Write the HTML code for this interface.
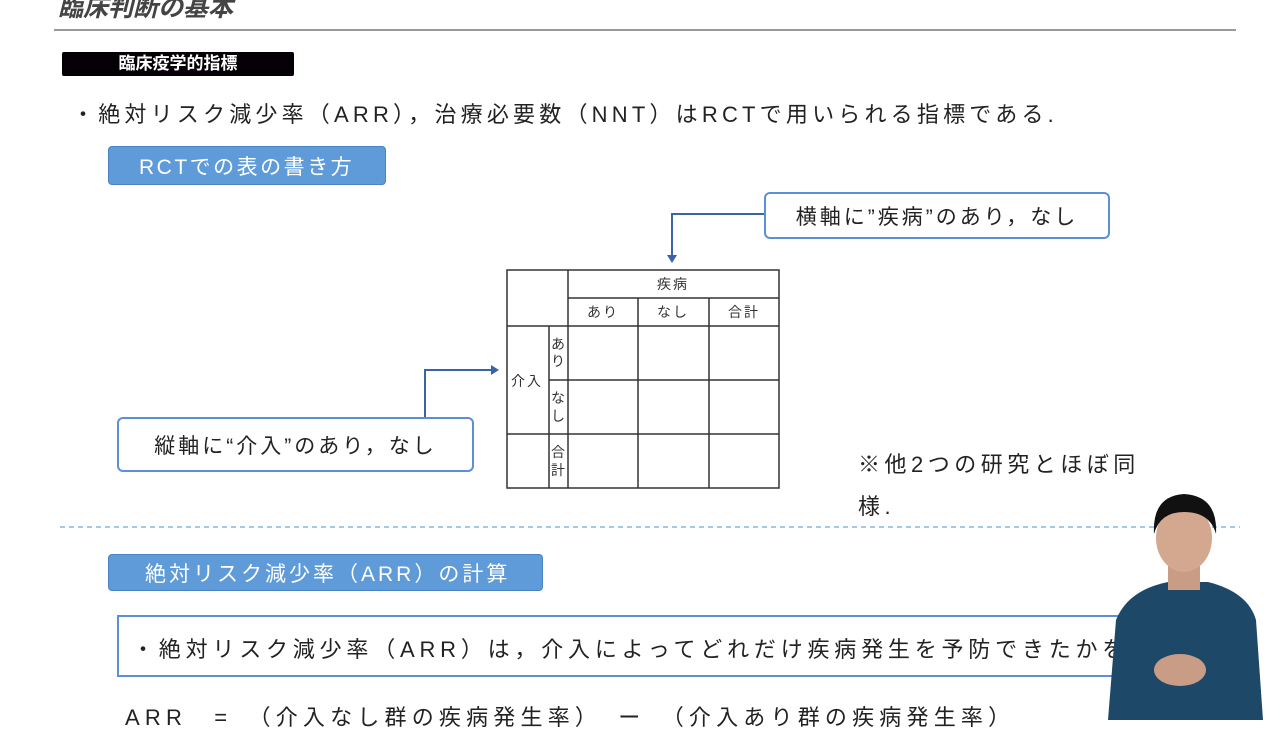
<!DOCTYPE html>
<html><head><meta charset="utf-8"><style>
body{margin:0;width:1280px;height:720px;overflow:hidden;background:#fff;position:relative;font-family:"Liberation Sans","Noto Sans CJK JP",sans-serif;color:#222}
.a{position:absolute;white-space:nowrap}
.bb{position:absolute;background:#5f9bd8;border:1.5px solid #4a83c4;border-radius:4px;color:#fff;font-size:21px;box-sizing:border-box;padding-left:30px;display:flex;align-items:center}
.wb{position:absolute;background:#fff;border:2px solid #5b8fd6;border-radius:6px;font-size:21px;box-sizing:border-box;display:flex;align-items:center;justify-content:center;letter-spacing:3px}
</style></head><body>
<div class="a" style="left:58px;top:-12px;font-size:25px;font-weight:bold;font-style:italic;color:#444">臨床判断の基本</div>
<div class="a" style="left:54px;top:29px;width:1182px;height:2px;background:#999"></div>
<div class="a" style="left:62px;top:52px;width:232px;height:24px;background:#050006;border-radius:2px;color:#fff;font-weight:bold;font-size:17px;line-height:24px;text-align:center">臨床疫学的指標</div>
<div class="a" style="left:72px;top:97px;font-size:22px;letter-spacing:4.2px">・絶対リスク減少率（ARR），治療必要数（NNT）はRCTで用いられる指標である.</div>
<div class="bb" style="left:108px;top:146px;width:278px;height:39px;letter-spacing:2.5px">RCTでの表の書き方</div>
<div class="wb" style="left:764px;top:192px;width:346px;height:47px">横軸に”疾病”のあり，なし</div>
<div class="wb" style="left:117px;top:417px;width:357px;height:55px">縦軸に“介入”のあり，なし</div>
<svg class="a" style="left:0;top:0" width="1280" height="720">
<g stroke="#3a63a8" stroke-width="2" fill="none">
<polyline points="764,214 672,214 672,256"/>
<polyline points="425,417 425,370 492,370"/>
</g>
<polygon points="667,255 677,255 672,263" fill="#3a63a8"/>
<polygon points="491,365 491,375 499,370" fill="#3a63a8"/>
<g stroke="#333" stroke-width="1.5" fill="none">
<rect x="507" y="270" width="272" height="218"/>
<line x1="568" y1="270" x2="568" y2="488"/>
<line x1="568" y1="298" x2="779" y2="298"/>
<line x1="638" y1="298" x2="638" y2="488"/>
<line x1="709" y1="298" x2="709" y2="488"/>
<line x1="507" y1="326" x2="779" y2="326"/>
<line x1="549" y1="326" x2="549" y2="488"/>
<line x1="549" y1="380" x2="779" y2="380"/>
<line x1="507" y1="434" x2="779" y2="434"/>
</g>
<g font-size="14" fill="#333" text-anchor="middle" font-family="Liberation Sans,Noto Sans CJK JP,sans-serif" letter-spacing="2">
<text x="673" y="289">疾病</text>
<text x="603" y="317">あり</text><text x="673" y="317">なし</text><text x="744" y="317">合計</text>
<text x="527" y="386">介入</text>
</g>
<g font-size="14" fill="#333" text-anchor="middle" font-family="Liberation Sans,Noto Sans CJK JP,sans-serif">
<text x="558" y="349">あ</text><text x="558" y="366">り</text>
<text x="558" y="403">な</text><text x="558" y="421">し</text>
<text x="558" y="457">合</text><text x="558" y="475">計</text>
</g>
<line x1="60" y1="527" x2="1240" y2="527" stroke="#8ab6dd" stroke-width="1.5" stroke-dasharray="5,4"/>
</svg>
<div class="a" style="left:858px;top:444px;font-size:22px;line-height:42px;letter-spacing:4.5px">※他2つの研究とほぼ同<br>様.</div>
<div class="bb" style="left:108px;top:554px;width:435px;height:37px;padding-left:36px;letter-spacing:3px">絶対リスク減少率（ARR）の計算</div>
<div class="a" style="left:117px;top:615px;width:1030px;height:62px;border:2px solid #5b8fd6;box-sizing:border-box"></div>
<div class="a" style="left:132px;top:632px;font-size:22px;letter-spacing:4.8px">・絶対リスク減少率（ARR）は，介入によってどれだけ疾病発生を予防できたかを</div>
<div class="a" style="left:125px;top:700px;font-size:22px;letter-spacing:5.2px">ARR　=　（介入なし群の疾病発生率）　ー　（介入あり群の疾病発生率）</div>
<svg class="a" style="left:1088px;top:490px" width="192" height="230">
<path d="M20,230 L28,130 Q40,100 80,92 L120,92 Q160,102 168,130 L175,230 Z" fill="#1e4868"/>
<rect x="80" y="70" width="32" height="30" fill="#c99c86"/>
<ellipse cx="96" cy="48" rx="28" ry="34" fill="#d4a88f"/>
<path d="M66,44 Q64,6 96,4 Q130,6 128,44 Q122,22 96,22 Q72,22 66,44Z" fill="#111"/>
<ellipse cx="92" cy="180" rx="26" ry="16" fill="#c99c86"/>
</svg>
</body></html>
